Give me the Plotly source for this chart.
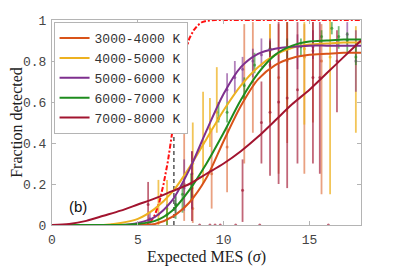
import plotly.graph_objects as go

# ---------------- data ----------------
x_fit = [0, 1, 2, 3, 4, 5, 6, 7, 8, 9, 10, 11, 12, 13, 14, 15, 16, 17, 18]
fit_3000_4000 = [0, 0, 0, 0, 0, 0, 0.005, 0.04, 0.11, 0.23, 0.41, 0.58, 0.71, 0.78, 0.815, 0.83, 0.835, 0.84, 0.84]
fit_4000_5000 = [0, 0, 0, 0, 0.01, 0.03, 0.08, 0.16, 0.28, 0.42, 0.56, 0.68, 0.77, 0.83, 0.865, 0.88, 0.885, 0.89, 0.89]
fit_5000_6000 = [0, 0, 0, 0, 0, 0.01, 0.04, 0.12, 0.27, 0.46, 0.64, 0.77, 0.835, 0.86, 0.87, 0.875, 0.875, 0.875, 0.875]
fit_6000_7000 = [0, 0, 0, 0, 0, 0.005, 0.02, 0.07, 0.17, 0.30, 0.45, 0.61, 0.74, 0.83, 0.875, 0.895, 0.90, 0.905, 0.905]
fit_7000_8000 = [0, 0.005, 0.02, 0.045, 0.07, 0.10, 0.13, 0.165, 0.20, 0.25, 0.30, 0.36, 0.43, 0.51, 0.59, 0.66, 0.74, 0.82, 0.90]

x_ideal = [0, 5.5, 5.75, 6, 6.25, 6.5, 6.75, 7, 7.25, 7.5, 7.75, 8, 8.25, 8.5, 8.75, 9, 9.5, 18]
y_ideal = [0, 0, 0.015, 0.05, 0.11, 0.2, 0.31, 0.45, 0.6, 0.73, 0.84, 0.91, 0.95, 0.975, 0.99, 0.996, 1.0, 1.0]

threshold_x = 7.1
threshold_y = 0.5

labels = ["3000-4000 K", "4000-5000 K", "5000-6000 K", "6000-7000 K", "7000-8000 K"]

# binned measurements: x, value, lower, upper
bx_3000_4000 = [7.7, 8.2, 9.3, 10.2, 11.2, 11.7, 12.7, 13.2, 13.7, 14.7, 15.2, 15.7]
by_3000_4000 = [0.20, 0.08, 0.25, 0.38, 0.62, 0.70, 0.78, 0.72, 0.80, 0.82, 0.85, 0.80]
blo_3000_4000 = [0.02, 0.01, 0.08, 0.16, 0.30, 0.45, 0.55, 0.25, 0.40, 0.25, 0.50, 0.15]
bhi_3000_4000 = [0.45, 0.15, 0.46, 0.48, 0.98, 0.99, 0.98, 0.98, 0.99, 0.98, 0.99, 0.98]

bx_4000_5000 = [6.2, 6.7, 8.2, 8.8, 9.2, 9.6, 12.7, 13.7, 14.7, 16.2, 17.7]
by_4000_5000 = [0.05, 0.08, 0.30, 0.40, 0.47, 0.55, 0.85, 0.86, 0.86, 0.82, 0.87]
blo_4000_5000 = [0.0, 0.0, 0.12, 0.20, 0.38, 0.45, 0.50, 0.55, 0.49, 0.15, 0.45]
bhi_4000_5000 = [0.22, 0.22, 0.50, 0.65, 0.62, 0.77, 0.98, 0.99, 0.99, 1.0, 0.97]

bx_5000_6000 = [5.7, 7.2, 7.7, 8.15, 10.2, 10.65, 11.1, 11.7, 12.2, 12.7, 14.3, 15.2, 17.2, 17.7]
by_5000_6000 = [0.03, 0.10, 0.18, 0.25, 0.66, 0.72, 0.76, 0.80, 0.83, 0.86, 0.87, 0.87, 0.93, 0.80]
blo_5000_6000 = [0.0, 0.05, 0.07, 0.08, 0.60, 0.64, 0.69, 0.72, 0.77, 0.77, 0.76, 0.81, 0.88, 0.65]
bhi_5000_6000 = [0.06, 0.15, 0.32, 0.36, 0.74, 0.80, 0.82, 0.86, 0.91, 0.91, 0.93, 0.95, 0.99, 0.95]

bx_6000_7000 = [6.7, 7.2, 7.6, 8.1, 9.7, 10.2, 11.2, 11.8, 12.7, 13.7, 14.5, 15.7, 16.3, 16.7, 17.2, 17.7]
by_6000_7000 = [0.05, 0.10, 0.15, 0.20, 0.52, 0.55, 0.68, 0.78, 0.86, 0.86, 0.87, 0.92, 0.96, 0.92, 0.90, 0.82]
blo_6000_7000 = [0.0, 0.03, 0.06, 0.12, 0.50, 0.50, 0.61, 0.74, 0.83, 0.80, 0.82, 0.88, 0.93, 0.86, 0.84, 0.78]
bhi_6000_7000 = [0.10, 0.14, 0.20, 0.25, 0.60, 0.60, 0.72, 0.84, 0.89, 0.91, 0.91, 0.95, 0.99, 0.97, 0.94, 0.89]

bx_7000_8000 = [3.5, 5.2, 5.6, 8.15, 8.6, 9.2, 9.5, 9.8, 10.7, 11.1, 12.1, 12.2, 12.7, 13.2, 13.7, 14.3, 15.2, 15.6, 16.1, 16.6]
by_7000_8000 = [0.0, 0.0, 0.10, 0.18, 0.0, 0.0, 0.0, 0.0, 0.0, 0.17, 0.0, 0.50, 0.55, 0.60, 0.62, 0.66, 0.72, 0.72, 0.0, 0.80]
blo_7000_8000 = [0.0, 0.0, 0.0, 0.02, 0.0, 0.0, 0.0, 0.0, 0.0, 0.015, 0.0, 0.30, 0.24, 0.20, 0.18, 0.30, 0.30, 0.25, 0.0, 0.55]
bhi_7000_8000 = [0.0, 0.0, 0.21, 0.36, 0.0, 0.0, 0.0, 0.0, 0.0, 0.32, 0.0, 0.70, 0.90, 0.99, 0.99, 0.99, 0.99, 0.99, 0.0, 0.95]

x_ticks = [0, 5, 10, 15]
y_ticks = [0, 0.2, 0.4, 0.6, 0.8, 1]
y_ticktext = ["0", "0.2", "0.4", "0.6", "0.8", "1"]

# ---------------- styles ----------------
line_colors = ["#D95319", "#EDB120", "#7E2F8E", "#1E8C1E", "#A2142F"]
bar_colors = ["rgba(217,83,25,0.55)", "rgba(237,177,32,0.75)", "rgba(126,47,142,0.6)",
              "rgba(30,140,30,0.6)", "rgba(162,20,47,0.65)"]

fits = [fit_3000_4000, fit_4000_5000, fit_5000_6000, fit_6000_7000, fit_7000_8000]
bars = [
    (bx_3000_4000, by_3000_4000, blo_3000_4000, bhi_3000_4000),
    (bx_4000_5000, by_4000_5000, blo_4000_5000, bhi_4000_5000),
    (bx_5000_6000, by_5000_6000, blo_5000_6000, bhi_5000_6000),
    (bx_6000_7000, by_6000_7000, blo_6000_7000, bhi_6000_7000),
    (bx_7000_8000, by_7000_8000, blo_7000_8000, bhi_7000_8000),
]

fig = go.Figure()

for (bx, by, blo, bhi), bc, lc in zip(bars, bar_colors, line_colors):
    fig.add_trace(go.Scatter(
        x=bx, y=by, mode="markers", showlegend=False, hoverinfo="skip",
        marker=dict(size=3, color=bc),
        error_y=dict(type="data", symmetric=False,
                     array=[h - v for h, v in zip(bhi, by)],
                     arrayminus=[v - l for v, l in zip(by, blo)],
                     color=bc, thickness=1.8, width=0),
    ))

fig.add_trace(go.Scatter(x=x_ideal, y=y_ideal, mode="lines", showlegend=False,
                         line=dict(color="#FF1010", width=2, dash="5px,2px,2px,2px")))
fig.add_trace(go.Scatter(x=[threshold_x, threshold_x], y=[0, threshold_y], mode="lines",
                         showlegend=False, line=dict(color="#555555", width=1.5, dash="4px,3px")))

for fy, lc, lab in zip(fits, line_colors, labels):
    fig.add_trace(go.Scatter(x=x_fit, y=fy, mode="lines", name=lab,
                             line=dict(color=lc, width=2, shape="spline", smoothing=0.8)))

axis_common = dict(
    showline=True, linecolor="#B4B4B4", linewidth=1, mirror="ticks",
    ticks="inside", ticklen=4, tickcolor="#B4B4B4", showgrid=False, zeroline=False,
    automargin=False,
    tickfont=dict(family="Liberation Mono", size=13, color="#444444"),
)

# the page body adds an 8px offset, so the figure is sized to fit the 399x266 window
fig.update_layout(
    width=391, height=258,
    margin=dict(l=44, r=38, t=12, b=41),
    paper_bgcolor="white", plot_bgcolor="white",
    xaxis=dict(range=[0, 18], tickvals=x_ticks, ticklabelstandoff=2,
               title=dict(text="Expected MES (<i>σ</i>)", standoff=1,
                          font=dict(family="Liberation Serif", size=16, color="#222222")),
               **axis_common),
    yaxis=dict(range=[0, 1], tickvals=y_ticks, ticktext=y_ticktext, ticklabelstandoff=2,
               title=dict(text="Fraction detected", standoff=4,
                          font=dict(family="Liberation Serif", size=16, color="#222222")),
               **axis_common),
    legend=dict(x=0.005, y=0.99, xanchor="left", yanchor="top",
                bgcolor="white", bordercolor="#B4B4B4", borderwidth=1,
                font=dict(family="Liberation Mono", size=13, color="#333333"),
                itemwidth=30, tracegroupgap=0),
    annotations=[dict(x=1.5, y=0.088, xref="x", yref="y", text="(b)", showarrow=False,
                      font=dict(family="Liberation Sans", size=15, color="#111111"))],
)

fig.write_html("out.html")
